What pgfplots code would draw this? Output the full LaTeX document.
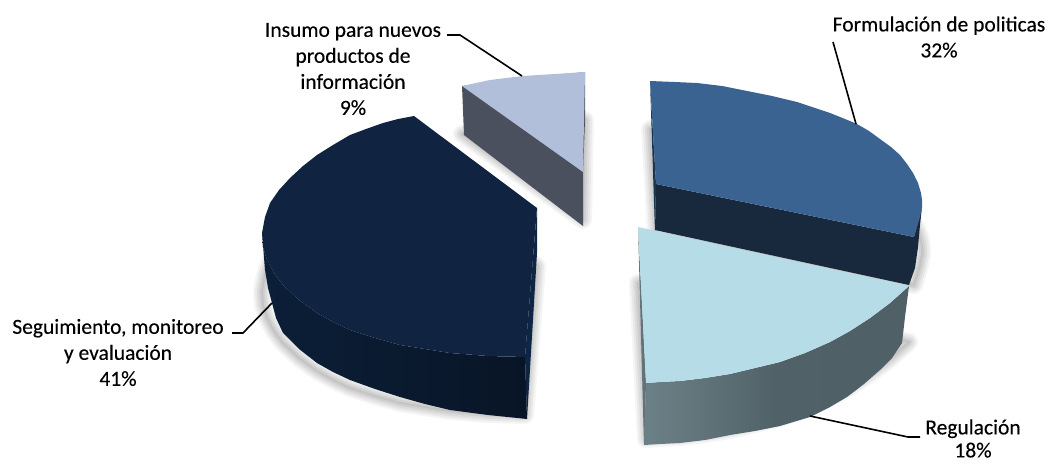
\documentclass[border=0pt]{standalone}
\usepackage{pgfplots}
\pgfplotsset{compat=1.18}
\usepackage{pgfplotstable}
\usepackage{fontspec}
\setmainfont[FakeBold=0.25]{Carlito}
\definecolor{fTop}{HTML}{3B6391}
\definecolor{fSide}{HTML}{18293D}
\definecolor{fStrip}{HTML}{1A3452}
\definecolor{rTop}{HTML}{B6DCE7}
\definecolor{rStrip}{HTML}{5F7379}
\definecolor{sTop}{HTML}{102442}
\definecolor{sStrip}{HTML}{0F2545}
\definecolor{iTop}{HTML}{B1BFDA}
\definecolor{iSide}{HTML}{4A505D}
\definecolor{rA}{HTML}{6C8187}
\definecolor{rB}{HTML}{506268}
\definecolor{rC}{HTML}{4D5E64}
\definecolor{sA}{HTML}{0C1F38}
\definecolor{sB}{HTML}{081526}
\pgfdeclarehorizontalshading{regside}{100bp}{color(0bp)=(rA); color(25bp)=(rA); color(50bp)=(rB); color(100bp)=(rC)}
\pgfdeclarehorizontalshading{segside}{100bp}{color(0bp)=(sA); color(25bp)=(sA); color(75bp)=(sB); color(100bp)=(sB)}
\pgfplotstableread{
x y
650 81
675 82
697 83
722 86
747 91
772 96
797 102
815 108
830 113
845 119
857 124
869 131
880 139
891 147
900 155
907 164
913 173
918 183
921 193
922 200
922 207
920 217
914 237
656 184
}\fTopT
\pgfplotstableread{
x y
638 227
909 286
890 303
870 318
850 331
830 342
805 353
780 362
755 368
730 374
705 378
680 381
660 382
646 383
}\rTopT
\pgfplotstableread{
x y
414 116
398 119
383 123
366 129
350 135
333 145
317 155
303 166
290 178
279 190
270 203
265 217
262 233
263 247
267 260
274 273
283 285
299 300
317 313
333 322
350 330
375 338
400 345
425 349
450 353
488 356
525 357
537 208
}\sTopT
\pgfplotstableread{
x y
462 86
476 83
490 80
506 78
523 76
555 74
585 72
583 172
}\iTopT
\tikzset{shad/.style={draw=black,draw opacity=#1,fill=none,line join=round,line cap=round}}
\newcommand\shadowlayer[2]{%
  \addplot[shad=#2,line width=#1] table[y expr=\thisrow{y}+48] {\iTopT} -- cycle;
  \addplot[shad=#2,line width=#1] table[y expr=\thisrow{y}+48] {\fTopT} -- cycle;
  \addplot[shad=#2,line width=#1] table[y expr=\thisrow{y}+56] {\rTopT} -- cycle;
  \addplot[shad=#2,line width=#1] table[y expr=\thisrow{y}+58] {\sTopT} -- cycle;
}
\begin{document}
\begin{tikzpicture}
\begin{axis}[
  name=main,
  scale only axis, width=1049pt, height=463pt,
  xmin=0, xmax=1049, ymin=0, ymax=463, y dir=reverse,
  hide axis, clip=true, enlargelimits=false]
% shadows
\shadowlayer{18pt}{.04}
\shadowlayer{14pt}{.05}
\shadowlayer{10pt}{.05}
\shadowlayer{6pt}{.06}
\shadowlayer{2pt}{.06}
% Insumo
\addplot[fill=iSide,draw=none] coordinates {(462,86)(464,135)(583,226)(583,172)(585,120)(585,72)} -- cycle;
\addplot[fill=iTop,draw=none] table {\iTopT} -- cycle;
% Seguimiento
\addplot[draw=none,shade,shading=segside] coordinates {(262,233)(263,247)(267,260)(274,273)(283,285)(299,300)(317,313)(333,322)(350,330)(375,338)(400,345)(425,349)(450,353)(488,356)(525,357)(527,419)(488,415)(450,410)(425,404)(400,397)(375,389)(350,380)(333,372)(317,363)(299,349)(283,333)(276,318)(272,303)(268,288)(265,270)} -- cycle;
\addplot[fill=sStrip,draw=none] coordinates {(537,208)(537,253)(527,419)(525,357)} -- cycle;
\addplot[fill=sTop,draw=none] table {\sTopT} -- cycle;
% Formulacion
\addplot[fill=fSide,draw=none] coordinates {(656,184)(914,237)(922,207)(920,225)(918,247)(915,268)(909,285)(655,230)} -- cycle;
\addplot[fill=fStrip,draw=none] coordinates {(650,81)(656,184)(655,232)} -- cycle;
\addplot[fill=fTop,draw=none] table {\fTopT} -- cycle;
% Regulacion
\addplot[draw=none,shade,shading=regside] coordinates {(646,383)(660,382)(680,381)(705,378)(730,374)(755,368)(780,362)(805,353)(830,342)(850,331)(870,318)(890,303)(909,286)(905,317)(902,343)(892,358)(880,370)(864,384)(847,397)(830,407)(810,417)(780,426)(755,431)(730,435)(705,440)(680,443)(660,444)(644,445)} -- cycle;
\addplot[fill=rStrip,draw=none] coordinates {(638,227)(644,445)(646,383)} -- cycle;
\addplot[fill=rTop,draw=none] table {\rTopT} -- cycle;
% leader lines
\addplot[black,line width=1.6pt] coordinates {(833,42)(856,124)};
\addplot[black,line width=1.6pt] coordinates {(810,416)(908,437)(920,437)};
\addplot[black,line width=1.6pt] coordinates {(232,333)(243,333)(272,303)};
\addplot[black,line width=1.6pt] coordinates {(447,35)(460,35)(522,76)};
\end{axis}
\begin{axis}[
  scale only axis, width=1049pt, height=463pt,
  xmin=0, xmax=1049, ymin=0, ymax=463, y dir=reverse,
  hide axis, clip=false, enlargelimits=false]
\addplot[draw=none,forget plot] coordinates {(0,0)(1049,463)};
\tikzset{lab/.style={font=\fontsize{21.5}{26}\selectfont,text=black,inner sep=0pt,align=center,anchor=center}}
\node[lab] at (axis cs:939,37) {Formulación de politicas\\32\%};
\node[lab,font=\fontsize{21.5}{23}\selectfont] at (axis cs:973,438.5) {Regulación\\18\%};
\node[lab] at (axis cs:118,352.5) {Seguimiento, monitoreo\\y evaluación\\41\%};
\node[lab] at (axis cs:353,69) {Insumo para nuevos\\productos de\\información\\9\%};
\end{axis}
\pgfresetboundingbox
\path[use as bounding box] (main.south west) rectangle (main.north east);
\end{tikzpicture}
\end{document}
